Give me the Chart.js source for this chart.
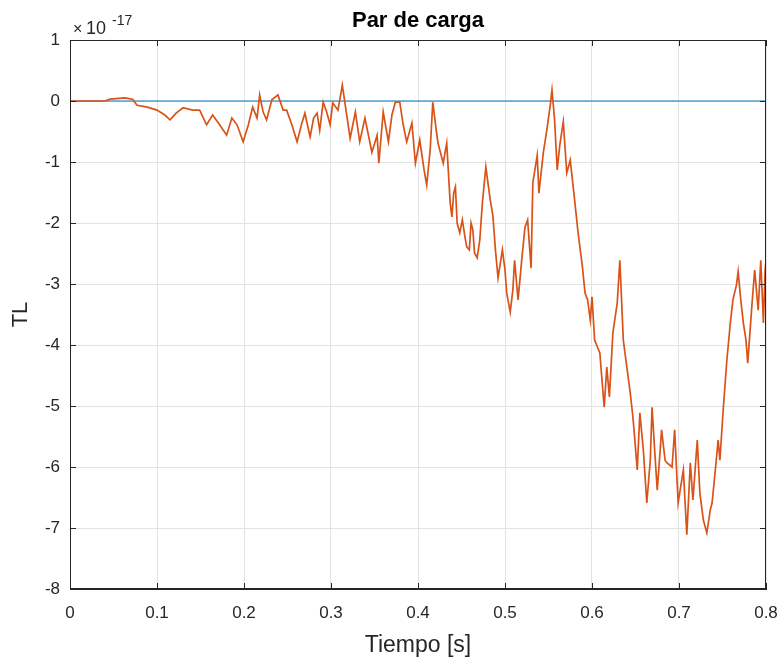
<!DOCTYPE html>
<html>
<head>
<meta charset="utf-8">
<script src="https://cdn.jsdelivr.net/npm/chart.js@4"></script>
<style>
  body { margin: 0; background: #fff; }
  #wrap { width: 782px; height: 663px; }
</style>
</head>
<body>
<div id="wrap"><canvas id="parChart"></canvas></div>
<script>
// Tiempo [s]
const tiempo = [0, 0.040, 0.046, 0.063, 0.072, 0.077, 0.089, 0.100, 0.109, 0.115,
  0.122, 0.130, 0.141, 0.149, 0.157, 0.164, 0.172, 0.180, 0.186, 0.192,
  0.199, 0.205, 0.210, 0.215, 0.218, 0.222, 0.226, 0.232, 0.239, 0.245,
  0.249, 0.255, 0.261, 0.266, 0.270, 0.276, 0.280, 0.284, 0.287, 0.291,
  0.295, 0.299, 0.302, 0.308, 0.313, 0.316, 0.322, 0.328, 0.333, 0.339,
  0.347, 0.353, 0.355, 0.360, 0.366, 0.370, 0.374, 0.379, 0.383, 0.387,
  0.393, 0.397, 0.402, 0.407, 0.410, 0.414, 0.417, 0.421, 0.423, 0.429,
  0.433, 0.437, 0.439, 0.441, 0.443, 0.445, 0.448, 0.451, 0.454, 0.456,
  0.459, 0.461, 0.463, 0.465, 0.468, 0.471,
  0.474, 0.478, 0.483, 0.486, 0.489, 0.492, 0.497, 0.500, 0.502, 0.506,
  0.509, 0.511, 0.515, 0.520, 0.523, 0.526, 0.530, 0.532, 0.537, 0.539,
  0.544, 0.548, 0.552, 0.554, 0.557, 0.560, 0.563, 0.567, 0.571, 0.575,
  0.580, 0.584, 0.589, 0.592, 0.595, 0.598, 0.600, 0.603, 0.609, 0.614,
  0.617, 0.620, 0.624, 0.629, 0.632, 0.636, 0.640, 0.644, 0.647, 0.649,
  0.652, 0.655, 0.659, 0.663, 0.667, 0.669, 0.672, 0.675, 0.678, 0.680,
  0.684, 0.686, 0.692, 0.695, 0.699, 0.705, 0.709, 0.713, 0.716, 0.721,
  0.724, 0.728, 0.732, 0.736, 0.738, 0.741, 0.745, 0.747, 0.751, 0.755,
  0.759, 0.762, 0.766, 0.768, 0.771, 0.774, 0.777, 0.779, 0.784, 0.787,
  0.791, 0.794, 0.797, 0.799, 0.800];

// TL, en unidades de 1e-17
const parCarga = [0, 0, 0.03, 0.05, 0.03, -0.07, -0.10, -0.15, -0.23, -0.31,
  -0.20, -0.11, -0.15, -0.15, -0.39, -0.23, -0.39, -0.56, -0.28, -0.39,
  -0.67, -0.39, -0.10, -0.28, 0.10, -0.18, -0.31, 0.02, 0.10, -0.15,
  -0.15, -0.39, -0.67, -0.39, -0.20, -0.59, -0.28, -0.20, -0.48, -0.02,
  -0.18, -0.39, -0.03, -0.15, 0.26, -0.03, -0.61, -0.18, -0.67, -0.28,
  -0.84, -0.56, -1.02, -0.18, -0.67, -0.23, -0.02, -0.02, -0.39, -0.67,
  -0.36, -1.02, -0.64, -1.13, -1.38, -0.80, -0.02, -0.48, -0.69, -1.02,
  -0.69, -1.67, -1.90, -1.51, -1.41, -2.00, -2.16, -1.95, -2.23, -2.39,
  -2.44, -2.00, -2.11, -2.49, -2.57, -2.28,
  -1.67, -1.08, -1.62, -1.87, -2.44, -2.90, -2.44, -2.77, -3.15, -3.46,
  -3.10, -2.61, -3.26, -2.49, -2.07, -1.95, -2.74, -1.34, -0.89, -1.51,
  -0.85, -0.48, -0.07, 0.18, -0.31, -1.13, -0.72, -0.34, -1.18, -0.97,
  -1.62, -2.16, -2.72, -3.15, -3.26, -3.59, -3.21, -3.92, -4.13, -5.02,
  -4.36, -4.85, -3.80, -3.31, -2.61, -3.92, -4.36, -4.79, -5.18, -5.51,
  -6.05, -5.11, -5.72, -6.59, -5.89, -5.02, -5.72, -6.38, -5.80, -5.39,
  -5.89, -5.93, -6.00, -5.39, -6.59, -6.05, -7.11, -5.93, -6.54, -5.56,
  -6.43, -6.87, -7.08, -6.70, -6.59, -6.16, -5.56, -5.89, -5.02, -4.25,
  -3.64, -3.26, -3.02, -2.80, -3.26, -3.64, -3.92, -4.30, -3.31, -2.77,
  -3.43, -2.61, -3.64, -2.77, -2.61];

// referencia en cero
const tiempoRef = [0, 0.8];
const parRef = [0, 0];

const xTicks = [0, 0.1, 0.2, 0.3, 0.4, 0.5, 0.6, 0.7, 0.8];
const yTicks = [1, 0, -1, -2, -3, -4, -5, -6, -7, -8];

const titulo = 'Par de carga';
const ejeColor = '#262626';
const fontName = '"Liberation Sans", Arial, sans-serif';

// caja, marcas hacia dentro, titulo centrado en los ejes y exponente (estilo MATLAB)
const matlabBox = {
    id: 'matlabBox',
    afterDraw(chart) {
        const { ctx, chartArea: a, scales } = chart;
        ctx.save();
        ctx.strokeStyle = ejeColor;
        ctx.lineWidth = 1;
        ctx.strokeRect(Math.round(a.left) + 0.5, Math.round(a.top) + 0.5,
            Math.round(a.right - a.left) - 1, Math.round(a.bottom - a.top) - 1);
        ctx.beginPath();
        const tl = 6;
        xTicks.forEach(v => {
            const x = Math.round(scales.x.getPixelForValue(v)) + 0.5;
            ctx.moveTo(x, a.bottom); ctx.lineTo(x, a.bottom - tl);
            ctx.moveTo(x, a.top); ctx.lineTo(x, a.top + tl);
        });
        yTicks.forEach(v => {
            const y = Math.round(scales.y.getPixelForValue(v)) + 0.5;
            ctx.moveTo(a.left, y); ctx.lineTo(a.left + tl, y);
            ctx.moveTo(a.right, y); ctx.lineTo(a.right - tl, y);
        });
        ctx.stroke();

        ctx.fillStyle = '#000';
        ctx.textAlign = 'center';
        ctx.textBaseline = 'middle';
        ctx.font = 'bold 22px ' + fontName;
        ctx.fillText(titulo, (a.left + a.right) / 2, 21);

        ctx.fillStyle = ejeColor;
        ctx.textAlign = 'left';
        ctx.textBaseline = 'alphabetic';
        ctx.font = '16px ' + fontName;
        ctx.fillText('\u00d7', 73, 34);
        ctx.font = '18px ' + fontName;
        ctx.fillText('10', 86, 34);
        ctx.font = '14px ' + fontName;
        ctx.fillText('-17', 112, 25);
        ctx.restore();
    }
};

const ctx = document.getElementById('parChart').getContext('2d');

new Chart(ctx, {
    type: 'line',
    data: {
        datasets: [
            {
                label: 'TL',
                data: tiempo.map((t, i) => ({ x: t, y: parCarga[i] })),
                borderColor: '#D95319',
                borderWidth: 1.7,
                pointRadius: 0,
                tension: 0,
                order: 0
            },
            {
                label: 'ref',
                data: tiempoRef.map((t, i) => ({ x: t, y: parRef[i] })),
                borderColor: '#0072BD',
                borderWidth: 1,
                pointRadius: 0,
                order: 1
            }
        ]
    },
    options: {
        responsive: true,
        maintainAspectRatio: false,
        animation: false,
        layout: { padding: { left: 0, right: 16, top: 40, bottom: 0 } },
        scales: {
            x: {
                type: 'linear',
                min: 0,
                max: 0.8,
                afterFit: s => { s.height = 74; s.paddingLeft = 0; s.paddingRight = 0; },
                afterBuildTicks: s => { s.ticks = xTicks.map(v => ({ value: v })); },
                ticks: {
                    color: ejeColor,
                    font: { family: fontName, size: 17 },
                    padding: 14,
                    maxRotation: 0,
                    callback: v => v === 0 ? '0' : String(+v.toFixed(1))
                },
                grid: { color: '#e3e3e3', drawTicks: false },
                border: { display: true, color: ejeColor },
                title: {
                    display: true,
                    text: 'Tiempo [s]',
                    color: ejeColor,
                    font: { family: fontName, size: 23 },
                    padding: { top: 0, bottom: 4 }
                }
            },
            y: {
                min: -8,
                max: 1,
                afterFit: s => { s.width = 70; s.paddingTop = 0; s.paddingBottom = 0; },
                afterBuildTicks: s => { s.ticks = yTicks.map(v => ({ value: v })); },
                ticks: {
                    color: ejeColor,
                    font: { family: fontName, size: 17 },
                    padding: 10,
                    callback: v => String(v)
                },
                grid: { color: '#e3e3e3', drawTicks: false },
                border: { display: true, color: ejeColor },
                title: {
                    display: true,
                    text: 'TL',
                    color: ejeColor,
                    font: { family: fontName, size: 22 },
                    padding: { top: 8, bottom: 0 }
                }
            }
        },
        plugins: {
            legend: { display: false },
            tooltip: { enabled: false },
            title: { display: false }
        }
    },
    plugins: [matlabBox]
});
</script>
</body>
</html>
